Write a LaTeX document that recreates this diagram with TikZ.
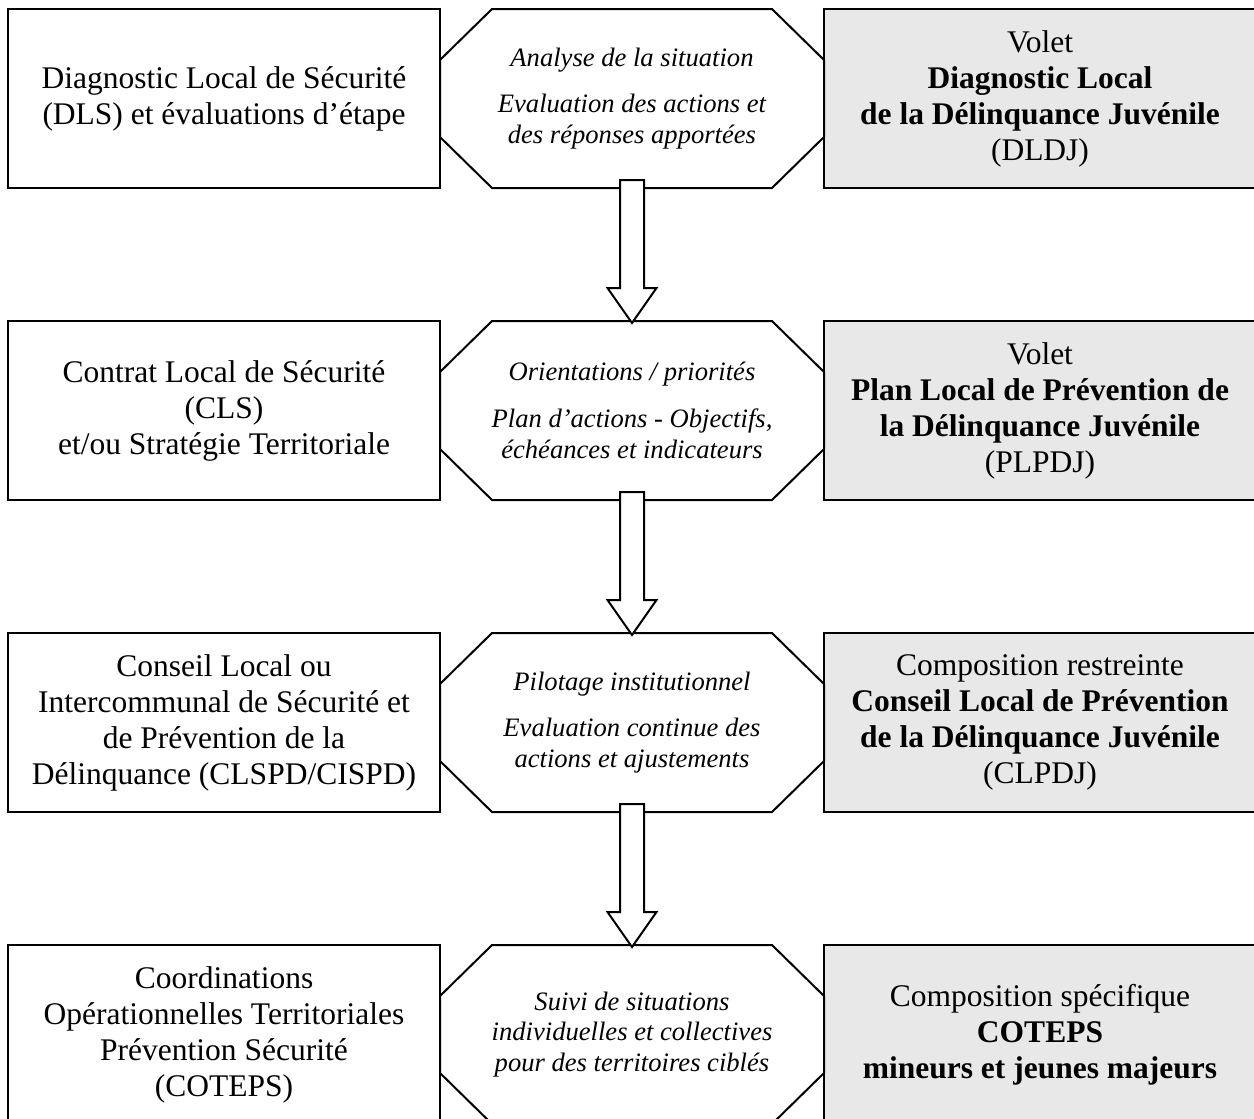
\documentclass[tikz,border=0pt]{standalone}
\usepackage{fontspec}
\setmainfont{Liberation Serif}
\usetikzlibrary{calc,positioning}
\definecolor{BoxGrey}{HTML}{E8E8E8}

\begin{document}
\begin{tikzpicture}[
    x=0.5pt, y=-0.5pt,
    box/.style={
        draw,
        line width=1pt,
        rectangle,
        minimum width=216pt,
        minimum height=89.5pt,
        inner sep=0pt,
        outer sep=0pt,
        align=center,
        font=\fontsize{15.75}{18}\selectfont
    },
    greybox/.style={box, fill=BoxGrey},
    octbox/.style={
        rectangle,
        minimum width=192pt,
        minimum height=89.5pt,
        inner sep=0pt,
        outer sep=0pt,
        align=center,
        font=\fontsize{13.3}{15.3}\selectfont\itshape
    },
    octline/.style={draw, line width=1pt, line join=miter},
    blockarrow/.style={draw, fill=white, line width=1pt, line join=miter}
]
    \useasboundingbox (0,0) rectangle (1254,1119);

    % row 1
    \node[box] (dls) at (224,98.5) {Diagnostic Local de Sécurité\\(DLS) et évaluations d’étape};
    \node[octbox, right=0pt of dls] (anal) {Analyse de la situation\\[8pt]Evaluation des actions et\\des réponses apportées};
    \node[greybox, right=0pt of anal] (dldj) {Volet\\\textbf{Diagnostic Local}\\\textbf{de la Délinquance Juvénile}\\(DLDJ)};

    % row 2
    \node[box, below=66.5pt of dls] (cls) {Contrat Local de Sécurité\\(CLS)\\et/ou Stratégie Territoriale};
    \node[octbox, right=0pt of cls] (orie) {Orientations / priorités\\[8pt]Plan d’actions - Objectifs,\\échéances et indicateurs};
    \node[greybox, right=0pt of orie] (plpdj) {Volet\\\textbf{Plan Local de Prévention de}\\\textbf{la Délinquance Juvénile}\\(PLPDJ)};

    % row 3
    \node[box, below=66.5pt of cls] (clspd) {Conseil Local ou\\Intercommunal de Sécurité et\\de Prévention de la\\Délinquance (CLSPD/CISPD)};
    \node[octbox, right=0pt of clspd] (pilo) {Pilotage institutionnel\\[8pt]Evaluation continue des\\actions et ajustements};
    \node[greybox, right=0pt of pilo] (clpdj) {Composition restreinte\\\textbf{Conseil Local de Prévention}\\\textbf{de la Délinquance Juvénile}\\(CLPDJ)};

    % row 4
    \node[box, below=66.5pt of clspd] (coteps) {Coordinations\\Opérationnelles Territoriales\\Prévention Sécurité\\(COTEPS)};
    \node[octbox, right=0pt of coteps] (suiv) {Suivi de situations\\individuelles et collectives\\pour des territoires ciblés};
    \node[greybox, right=0pt of suiv] (cotepsmj) {Composition spécifique\\\textbf{COTEPS}\\\textbf{mineurs et jeunes majeurs}};

    % octagon outlines round the middle column
    \foreach \o in {anal, orie, pilo, suiv}
        \draw[octline] ($(\o.north west)+(52,0)$) -- ($(\o.north east)+(-52,0)$)
            -- ($(\o.north east)+(0,51)$) -- ($(\o.south east)+(0,-51)$)
            -- ($(\o.south east)+(-52,0)$) -- ($(\o.south west)+(52,0)$)
            -- ($(\o.south west)+(0,-51)$) -- ($(\o.north west)+(0,51)$) -- cycle;

    % arrows between the octagons
    \foreach \a/\b in {anal/orie, orie/pilo, pilo/suiv}
        \draw[blockarrow] let \p1=(\a.south), \p2=(\b.north) in
            (\x1-6pt,\y1+4pt) -- (\x1+6pt,\y1+4pt) -- (\x1+6pt,\y2+16.5pt)
            -- (\x1+12.25pt,\y2+16.5pt) -- (\x1,\y2-1pt)
            -- (\x1-12.25pt,\y2+16.5pt) -- (\x1-6pt,\y2+16.5pt) -- cycle;
\end{tikzpicture}
\end{document}
